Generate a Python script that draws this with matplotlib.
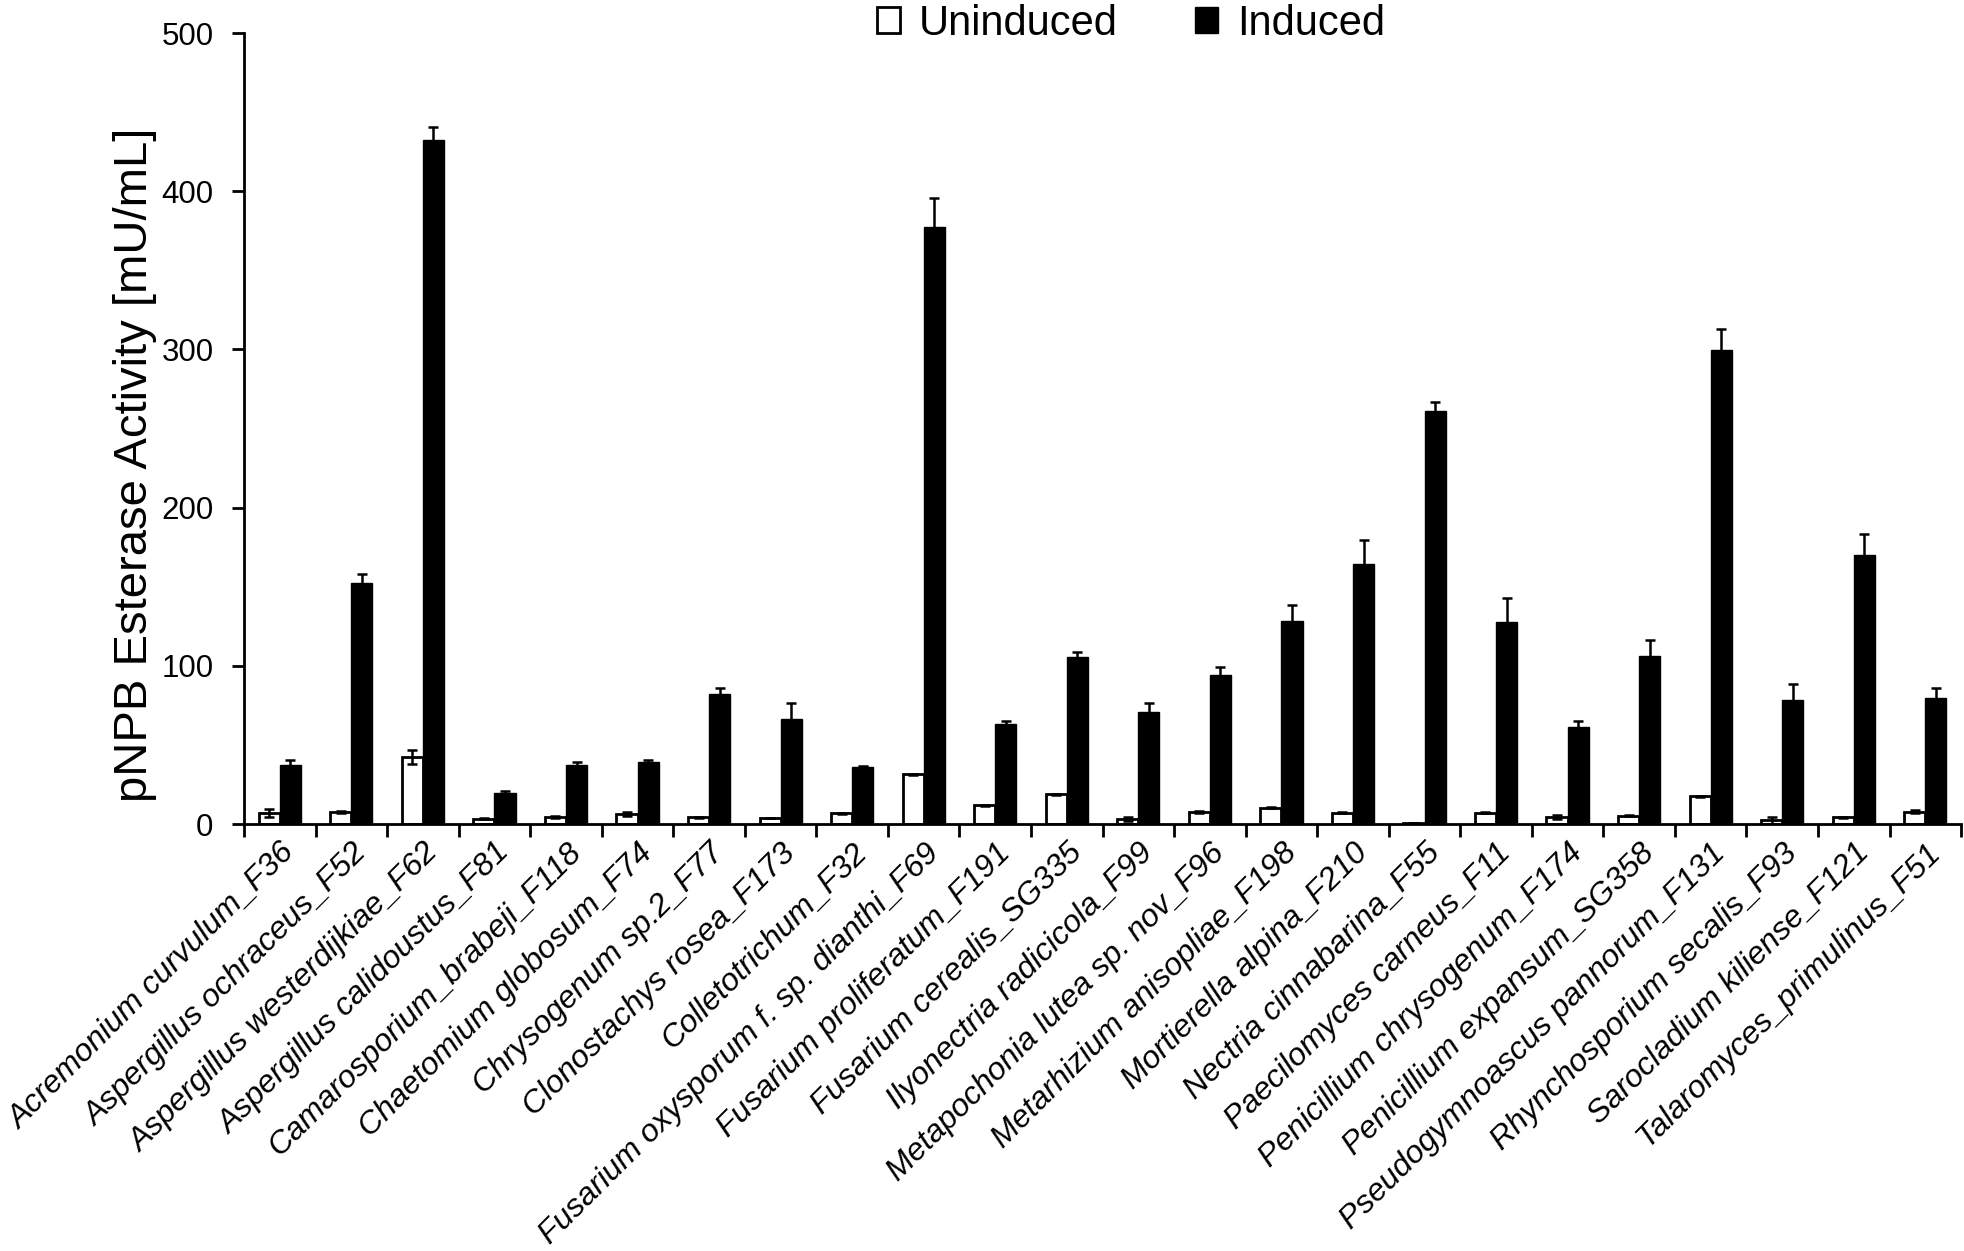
import numpy as np
import matplotlib
matplotlib.use("Agg")
import matplotlib.pyplot as plt
from matplotlib.patches import Patch

plt.rcParams['font.family'] = ['Liberation Sans', 'DejaVu Sans']

strains = ['Acremonium curvulum_F36', 'Aspergillus ochraceus_F52', 'Aspergillus westerdijkiae_F62',
           'Aspergillus calidoustus_F81', 'Camarosporium_brabeji_F118', 'Chaetomium globosum_F74',
           'Chrysogenum sp.2_F77', 'Clonostachys rosea_F173', 'Colletotrichum_F32',
           'Fusarium oxysporum f. sp. dianthi_F69', 'Fusarium proliferatum_F191', 'Fusarium cerealis_SG335',
           'Ilyonectria radicicola_F99', 'Metapochonia lutea sp. nov_F96', 'Metarhizium anisopliae_F198',
           'Mortierella alpina_F210', 'Nectria cinnabarina_F55', 'Paecilomyces carneus_F11',
           'Penicillium chrysogenum_F174', 'Penicillium expansum_SG358', 'Pseudogymnoascus pannorum_F131',
           'Rhynchosporium secalis_F93', 'Sarocladium kiliense_F121', 'Talaromyces_primulinus_F51']

uninduced = [6.7, 7.6, 42.3, 3.4, 4.6, 6.3, 4.2, 3.8, 6.7, 31.6, 12.0, 18.7,
             3.2, 7.5, 10.4, 7.2, 0.6, 7.2, 4.7, 5.3, 17.5, 2.3, 4.3, 7.9]
uninduced_err = [2.5, 0.5, 4.5, 0.3, 0.5, 1.5, 0.5, 0.3, 0.3, 0.3, 0.3, 0.3,
                 1.0, 0.7, 0.3, 0.3, 0.2, 0.3, 1.3, 0.3, 0.3, 2.0, 0.3, 1.0]
induced = [37.5, 152.4, 432.5, 19.8, 37.5, 39.4, 82.3, 66.5, 36.2, 377.5, 63.4, 105.5,
           70.6, 94.0, 128.6, 164.6, 261.2, 127.9, 61.2, 106.0, 299.5, 78.2, 170.3, 79.5]
induced_err = [2.7, 5.9, 8.0, 1.0, 1.5, 0.8, 3.6, 10.3, 0.4, 18.5, 1.5, 3.2,
               6.0, 5.1, 9.8, 14.7, 5.3, 14.7, 3.8, 10.2, 13.4, 10.2, 13.0, 6.4]

x = np.arange(len(strains)) + 0.5
w = 0.295

fig = plt.figure(figsize=(19.65, 12.51), dpi=100)
ax = fig.add_axes([0.1242, 0.3413, 0.8738, 0.6323])

ax.bar(x - w / 2, uninduced, w, color='white', edgecolor='black', linewidth=2, zorder=2)
ax.bar(x + w / 2, induced, w, color='black', edgecolor='black', linewidth=1, zorder=2)
ax.errorbar(x - w / 2, uninduced, yerr=uninduced_err, fmt='none', ecolor='black',
            elinewidth=1.8, capsize=3.5, capthick=1.8, zorder=3)
ax.errorbar(x + w / 2, induced, yerr=induced_err, fmt='none', ecolor='black',
            elinewidth=1.8, capsize=3.5, capthick=1.8, zorder=3)

ax.set_xlim(0, len(strains))
ax.set_ylim(0, 500)
ax.set_yticks([0, 100, 200, 300, 400, 500])
ax.set_xticks(np.arange(len(strains) + 1))
ax.set_xticklabels([])
ax.set_xticks(x, minor=True)
ax.set_xticklabels(strains, minor=True, rotation=45, ha='right', rotation_mode='anchor',
                   fontsize=23, style='italic')
ax.tick_params(axis='x', which='minor', length=0, pad=10)
ax.tick_params(axis='x', which='major', direction='out', length=9, width=2)
ax.tick_params(axis='y', direction='out', length=9, width=2, labelsize=22.5, pad=13)

for s in ['top', 'right']:
    ax.spines[s].set_visible(False)
for s in ['left', 'bottom']:
    ax.spines[s].set_linewidth(2)

ax.set_ylabel('pNPB Esterase Activity [mU/mL]', fontsize=34)
ax.yaxis.set_label_coords(-0.0507, 0.454)

handles = [Patch(facecolor='white', edgecolor='black', linewidth=2, label='Uninduced'),
           Patch(facecolor='black', edgecolor='black', label='Induced')]
fig.legend(handles=handles, loc='upper left', bbox_to_anchor=(877 / 1965, 0.997), ncol=2,
           frameon=False, fontsize=30, handlelength=0.55, handleheight=0.55,
           handletextpad=0.45, columnspacing=1.87, borderpad=0, borderaxespad=0)

fig.savefig('out.png', dpi=100)
